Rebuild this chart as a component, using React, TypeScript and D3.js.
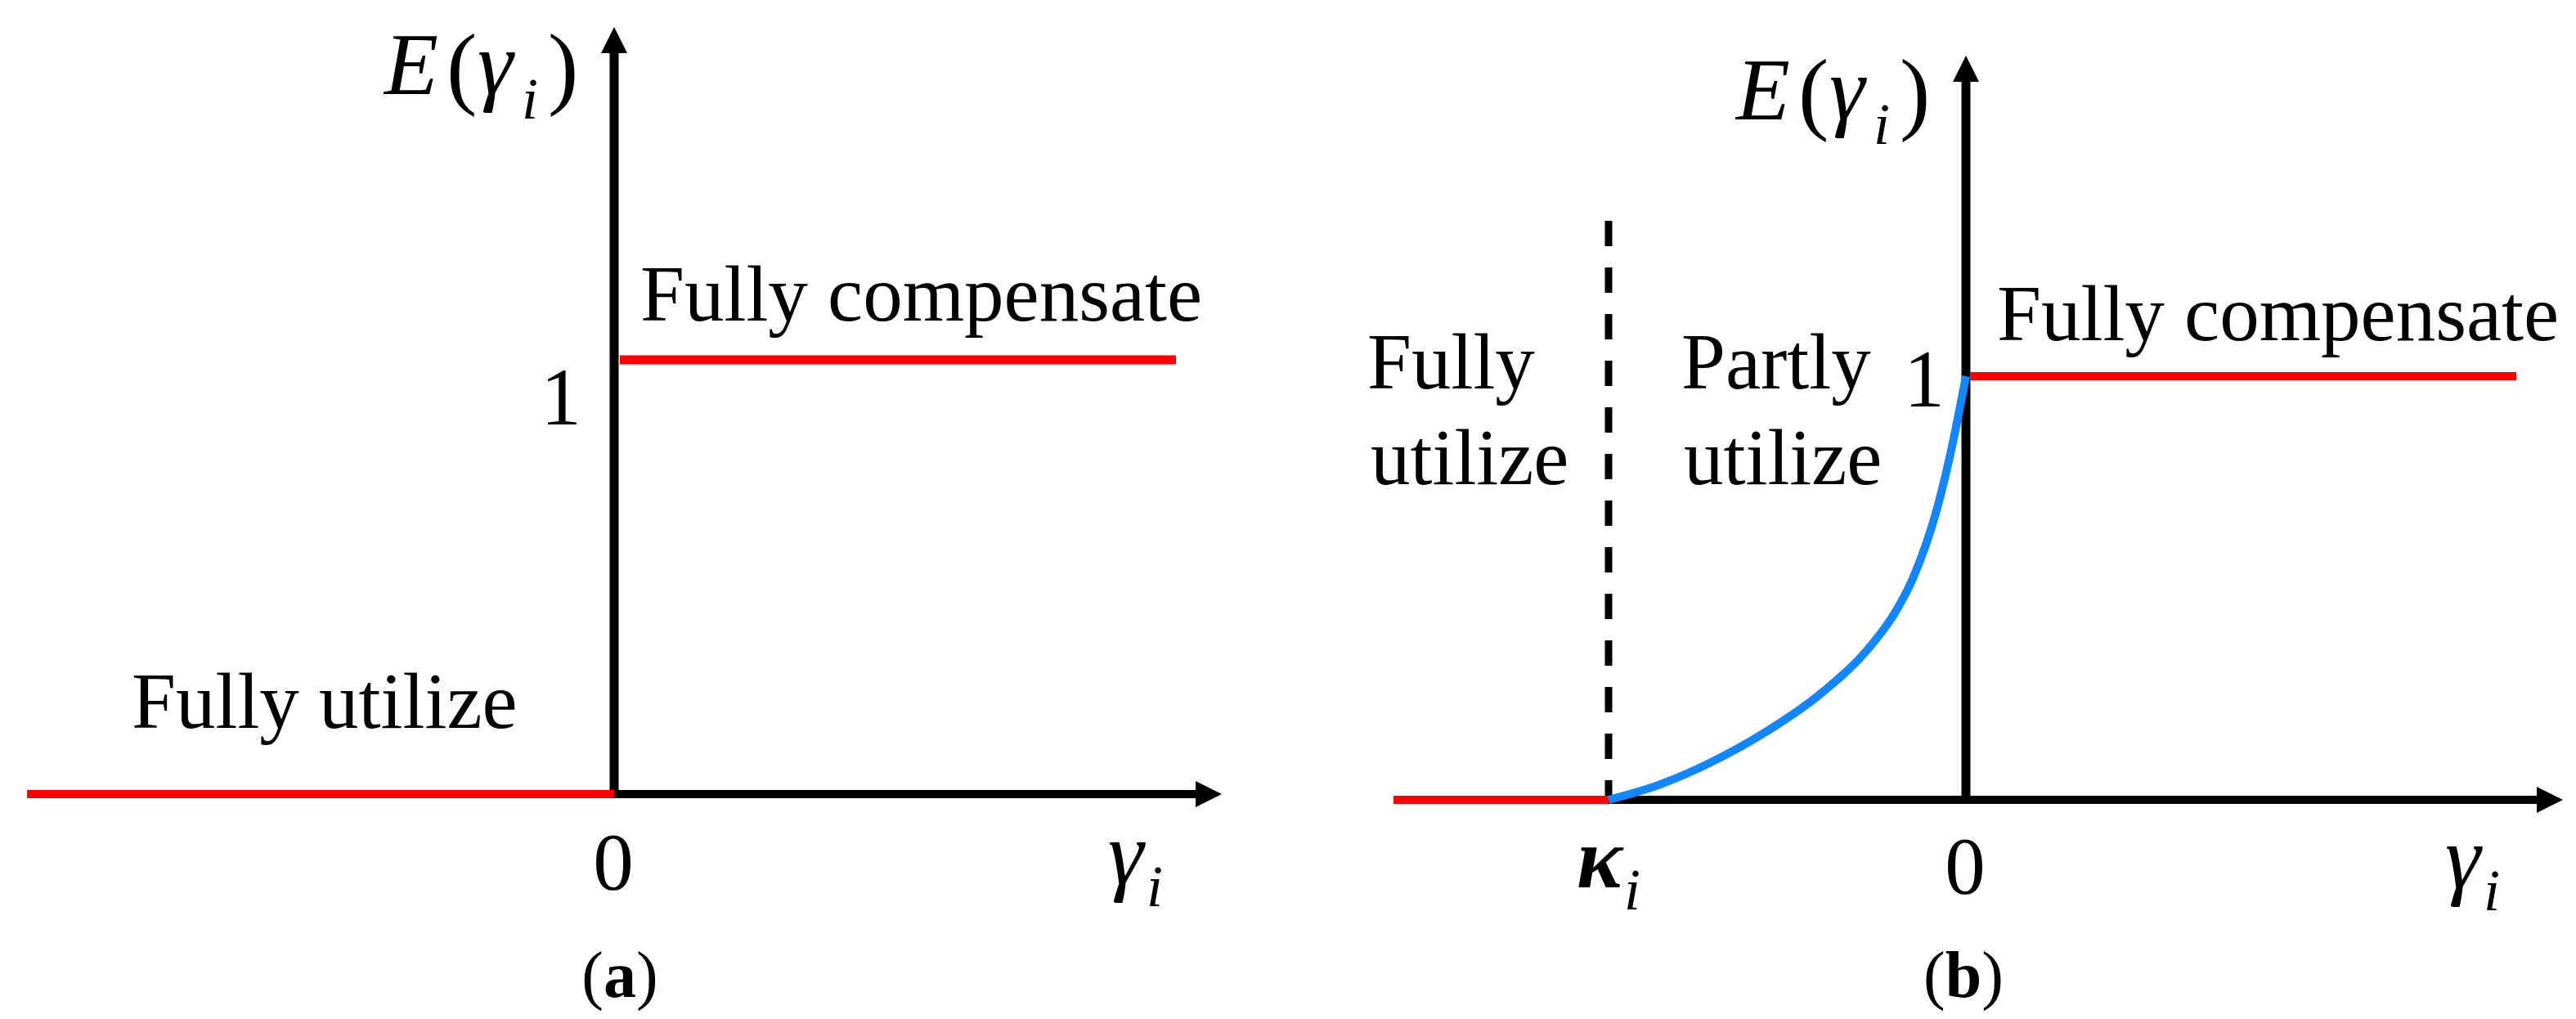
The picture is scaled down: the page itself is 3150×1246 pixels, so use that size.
import React from "react";
import * as d3 from "d3";

// ---------- data (domain units) ----------
// Panel (a): step function E(γ)
const aLow: [number, number][] = [[-1.045, 0], [0, 0]];
const aHigh: [number, number][] = [[0, 1], [1, 1]];
// Panel (b): piecewise with a partly-utilize region between κ and 0
const kappa = -1;
const bLow: [number, number][] = [[-1.602, 0], [kappa, 0]];
const bHigh: [number, number][] = [[0, 1], [1.54, 1]];
const bCurve: [number, number][] = [
  [-1, 0], [-0.86, 0.035], [-0.71, 0.09], [-0.58, 0.15], [-0.4, 0.255],
  [-0.275, 0.355], [-0.2, 0.44], [-0.15, 0.52], [-0.08, 0.69], [-0.04, 0.83], [0, 1],
];
const tickZero = "0";
const tickOne = "1";

const RED = "#FF0000";
const BLUE = "#1186FF";
const FONT = "'Liberation Serif', 'Times New Roman', serif";

// scales
const xa = d3.scaleLinear().domain([0, 1]).range([751, 1438]);
const ya = d3.scaleLinear().domain([0, 1]).range([971, 440]);
const xb = d3.scaleLinear().domain([kappa, 0]).range([1967, 2404]);
const yb = d3.scaleLinear().domain([0, 1]).range([978, 460]);

function Arrow({ x0, y0, x1, y1, sw }: any) {
  const dx = x1 - x0, dy = y1 - y0;
  const L = Math.hypot(dx, dy);
  const ux = dx / L, uy = dy / L;
  const hl = 32, hw = 16;
  const bx = x1 - ux * hl, by = y1 - uy * hl;
  const px = -uy, py = ux;
  return (
    <g>
      <line x1={x0} y1={y0} x2={bx + ux * 2} y2={by + uy * 2} stroke="#000" strokeWidth={sw} />
      <path d={`M${x1},${y1}L${bx + px * hw},${by + py * hw}L${bx - px * hw},${by - py * hw}Z`} fill="#000" />
    </g>
  );
}

function Label({ x, y, text, size = 97, anchor = "start", weight = "normal" }: any) {
  return (
    <text x={x} y={y} fontFamily={FONT} fontSize={size} textAnchor={anchor} fontWeight={weight}>{text}</text>
  );
}

function EGamma({ x, y }: any) {
  return (
    <g fontFamily={FONT}>
      <text x={x} y={y} fontSize={108} fontStyle="italic">E</text>
      <text x={x + 76} y={y + 4} fontSize={112}>(</text>
      <text x={x + 114} y={y} fontSize={110} fontStyle="italic">γ</text>
      <text x={x + 168} y={y + 30} fontSize={72} fontStyle="italic">i</text>
      <text x={x + 200} y={y + 4} fontSize={112}>)</text>
    </g>
  );
}

function Sub({ x, y, sym, bold = false, size = 110 }: any) {
  return (
    <g fontFamily={FONT} fontStyle="italic">
      <text x={x} y={y} fontSize={size} fontWeight={bold ? "bold" : "normal"}>{sym}</text>
      <text x={x + (bold ? 58 : 47)} y={y + 27} fontSize={72}>i</text>
    </g>
  );
}

export default function App() {
  const lineA = d3.line<[number, number]>().x((d) => xa(d[0])).y((d) => ya(d[1]));
  const lineB = d3.line<[number, number]>().x((d) => xb(d[0])).y((d) => yb(d[1]));
  const curveB = d3
    .line<[number, number]>()
    .x((d) => xb(d[0]))
    .y((d) => yb(d[1]))
    .curve(d3.curveMonotoneX);

  return (
    <svg
      width={3150}
      height={1246}
      style={{ position: "absolute", left: 0, top: 0, background: "#fff" }}
    >
      <rect width={3150} height={1246} fill="#fff" />

      {/* ---------- Panel (a) ---------- */}
      <Arrow x0={xa(0)} y0={ya(0) + 5} x1={xa(0)} y1={33} sw={11} />
      <Arrow x0={xa(0)} y0={ya(0)} x1={1494} y1={ya(0)} sw={10} />
      <path d={lineA(aLow) || ""} stroke={RED} strokeWidth={10} fill="none" />
      <path d={lineA([[0.01, 1], aHigh[1]]) || ""} stroke={RED} strokeWidth={11} fill="none" />

      <EGamma x={470} y={115} />
      <Label x={686} y={519} text={tickOne} size={99} anchor="middle" />
      <Label x={750} y={1087} text={tickZero} size={99} anchor="middle" />
      <Sub x={1355} y={1081} sym="γ" />
      <Label x={783} y={392} text="Fully compensate" />
      <Label x={161} y={890} text="Fully utilize" />
      <text x={758} y={1219} fontFamily={FONT} fontSize={80} textAnchor="middle">
        (<tspan fontWeight="bold">a</tspan>)
      </text>

      {/* ---------- Panel (b) ---------- */}
      <Arrow x0={xb(0)} y0={yb(0) + 5} x1={xb(0)} y1={68} sw={11} />
      <Arrow x0={xb(kappa)} y0={yb(0)} x1={3134} y1={yb(0)} sw={10} />
      <line
        x1={xb(kappa)}
        x2={xb(kappa)}
        y1={270}
        y2={yb(0)}
        stroke="#000"
        strokeWidth={9}
        strokeDasharray="31 26"
      />
      <path d={lineB(bLow) || ""} stroke={RED} strokeWidth={10} fill="none" />
      <path d={lineB([[0.012, 1], bHigh[1]]) || ""} stroke={RED} strokeWidth={10} fill="none" />
      <path d={curveB(bCurve) || ""} stroke={BLUE} strokeWidth={10} fill="none" />

      <EGamma x={2123} y={146} />
      <Label x={2353} y={497} text={tickOne} size={99} anchor="middle" />
      <Label x={2403} y={1092} text={tickZero} size={99} anchor="middle" />
      <Sub x={1928} y={1085} sym="κ" bold size={105} />
      <Sub x={2990} y={1086} sym="γ" />
      <Label x={2442} y={416} text="Fully compensate" />
      <Label x={1672} y={475} text="Fully" />
      <Label x={1676} y={592} text="utilize" />
      <Label x={2056} y={475} text="Partly" />
      <Label x={2059} y={592} text="utilize" />
      <text x={2401} y={1219} fontFamily={FONT} fontSize={80} textAnchor="middle">
        (<tspan fontWeight="bold">b</tspan>)
      </text>
    </svg>
  );
}
